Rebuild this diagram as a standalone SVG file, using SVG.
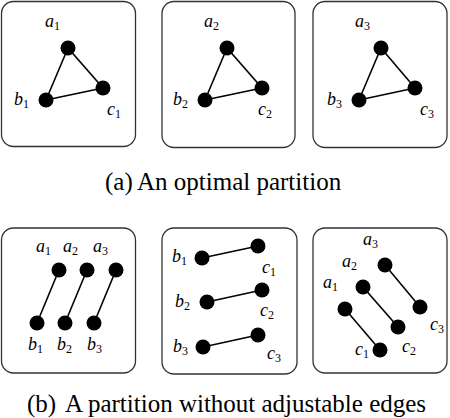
<svg xmlns="http://www.w3.org/2000/svg" width="450" height="418" viewBox="0 0 450 418">
<style>
.box{fill:#fff;stroke:#333;stroke-width:1.3}
.dot{fill:#000}
.edge{stroke:#000;stroke-width:1.6;fill:none}
.sub{font-style:normal;font-size:12px}
</style>
<rect width="450" height="418" fill="#fff"/>
<g id="panels">
<rect class="box" x="1.5" y="1.5" width="134" height="145" rx="12"/>
<rect class="box" x="162" y="1.5" width="133" height="146" rx="12"/>
<rect class="box" x="313" y="1.5" width="134" height="146" rx="12"/>
<rect class="box" x="1.5" y="228" width="134" height="145" rx="12"/>
<rect class="box" x="162" y="228" width="135" height="146" rx="12"/>
<rect class="box" x="313" y="228" width="134" height="145" rx="12"/>
</g>
<g id="connectors">
<line class="edge" x1="68" y1="48" x2="103" y2="88"/>
<line class="edge" x1="68" y1="48" x2="46" y2="100"/>
<line class="edge" x1="46" y1="100" x2="103" y2="88"/>
<line class="edge" x1="227" y1="48" x2="262" y2="88"/>
<line class="edge" x1="227" y1="48" x2="205" y2="100"/>
<line class="edge" x1="205" y1="100" x2="262" y2="88"/>
<line class="edge" x1="381" y1="48" x2="415" y2="88"/>
<line class="edge" x1="381" y1="48" x2="359" y2="100"/>
<line class="edge" x1="359" y1="100" x2="415" y2="88"/>
<line class="edge" x1="59" y1="270" x2="37" y2="323"/>
<line class="edge" x1="87" y1="270" x2="65" y2="323"/>
<line class="edge" x1="116" y1="270" x2="94" y2="323"/>
<line class="edge" x1="202" y1="258" x2="258" y2="246"/>
<line class="edge" x1="207" y1="302" x2="262" y2="290"/>
<line class="edge" x1="203" y1="347" x2="258" y2="335"/>
<line class="edge" x1="385" y1="265" x2="420" y2="307"/>
<line class="edge" x1="363" y1="287" x2="398" y2="327"/>
<line class="edge" x1="345" y1="309" x2="380" y2="350"/>
</g>
<g font-family="Liberation Serif, serif" font-style="italic" font-size="18" fill="#000">
<g id="p1-a1"><circle class="dot" cx="68" cy="48" r="7.5"/><text x="45" y="27">a<tspan class="sub" dy="3">1</tspan></text></g>
<g id="p1-b1"><circle class="dot" cx="46" cy="100" r="7.5"/><text x="14" y="105">b<tspan class="sub" dy="3">1</tspan></text></g>
<g id="p1-c1"><circle class="dot" cx="103" cy="88" r="7.5"/><text x="107" y="115">c<tspan class="sub" dy="3">1</tspan></text></g>
<g id="p2-a2"><circle class="dot" cx="227" cy="48" r="7.5"/><text x="204" y="27">a<tspan class="sub" dy="3">2</tspan></text></g>
<g id="p2-b2"><circle class="dot" cx="205" cy="100" r="7.5"/><text x="173" y="105">b<tspan class="sub" dy="3">2</tspan></text></g>
<g id="p2-c2"><circle class="dot" cx="262" cy="88" r="7.5"/><text x="258" y="115">c<tspan class="sub" dy="3">2</tspan></text></g>
<g id="p3-a3"><circle class="dot" cx="381" cy="48" r="7.5"/><text x="355" y="27">a<tspan class="sub" dy="3">3</tspan></text></g>
<g id="p3-b3"><circle class="dot" cx="359" cy="100" r="7.5"/><text x="327" y="105">b<tspan class="sub" dy="3">3</tspan></text></g>
<g id="p3-c3"><circle class="dot" cx="415" cy="88" r="7.5"/><text x="420" y="115">c<tspan class="sub" dy="3">3</tspan></text></g>
<g id="p4-a1"><circle class="dot" cx="59" cy="270" r="7.5"/><text x="36" y="252">a<tspan class="sub" dy="3">1</tspan></text></g>
<g id="p4-a2"><circle class="dot" cx="87" cy="270" r="7.5"/><text x="63" y="252">a<tspan class="sub" dy="3">2</tspan></text></g>
<g id="p4-a3"><circle class="dot" cx="116" cy="270" r="7.5"/><text x="93" y="252">a<tspan class="sub" dy="3">3</tspan></text></g>
<g id="p4-b1"><circle class="dot" cx="37" cy="323" r="7.5"/><text x="28" y="350">b<tspan class="sub" dy="3">1</tspan></text></g>
<g id="p4-b2"><circle class="dot" cx="65" cy="323" r="7.5"/><text x="57" y="350">b<tspan class="sub" dy="3">2</tspan></text></g>
<g id="p4-b3"><circle class="dot" cx="94" cy="323" r="7.5"/><text x="87" y="350">b<tspan class="sub" dy="3">3</tspan></text></g>
<g id="p5-b1"><circle class="dot" cx="202" cy="258" r="7.5"/><text x="172" y="262">b<tspan class="sub" dy="3">1</tspan></text></g>
<g id="p5-c1"><circle class="dot" cx="258" cy="246" r="7.5"/><text x="262" y="273">c<tspan class="sub" dy="3">1</tspan></text></g>
<g id="p5-b2"><circle class="dot" cx="207" cy="302" r="7.5"/><text x="175" y="307">b<tspan class="sub" dy="3">2</tspan></text></g>
<g id="p5-c2"><circle class="dot" cx="262" cy="290" r="7.5"/><text x="260" y="316">c<tspan class="sub" dy="3">2</tspan></text></g>
<g id="p5-b3"><circle class="dot" cx="203" cy="347" r="7.5"/><text x="173" y="352">b<tspan class="sub" dy="3">3</tspan></text></g>
<g id="p5-c3"><circle class="dot" cx="258" cy="335" r="7.5"/><text x="267" y="359">c<tspan class="sub" dy="3">3</tspan></text></g>
<g id="p6-a3"><circle class="dot" cx="385" cy="265" r="7.5"/><text x="363" y="245">a<tspan class="sub" dy="3">3</tspan></text></g>
<g id="p6-c3"><circle class="dot" cx="420" cy="307" r="7.5"/><text x="430" y="330">c<tspan class="sub" dy="3">3</tspan></text></g>
<g id="p6-a2"><circle class="dot" cx="363" cy="287" r="7.5"/><text x="342" y="267">a<tspan class="sub" dy="3">2</tspan></text></g>
<g id="p6-c2"><circle class="dot" cx="398" cy="327" r="7.5"/><text x="402" y="352">c<tspan class="sub" dy="3">2</tspan></text></g>
<g id="p6-a1"><circle class="dot" cx="345" cy="309" r="7.5"/><text x="323" y="288">a<tspan class="sub" dy="3">1</tspan></text></g>
<g id="p6-c1"><circle class="dot" cx="380" cy="350" r="7.5"/><text x="355" y="355">c<tspan class="sub" dy="3">1</tspan></text></g>
</g>
<g id="captions" font-family="Liberation Serif, serif" font-size="25" fill="#000">
<text x="105" y="190">(a)<tspan x="137">An optimal partition</tspan></text>
<text x="27" y="412">(b)<tspan x="65">A partition without adjustable edges</tspan></text>
</g>
</svg>
